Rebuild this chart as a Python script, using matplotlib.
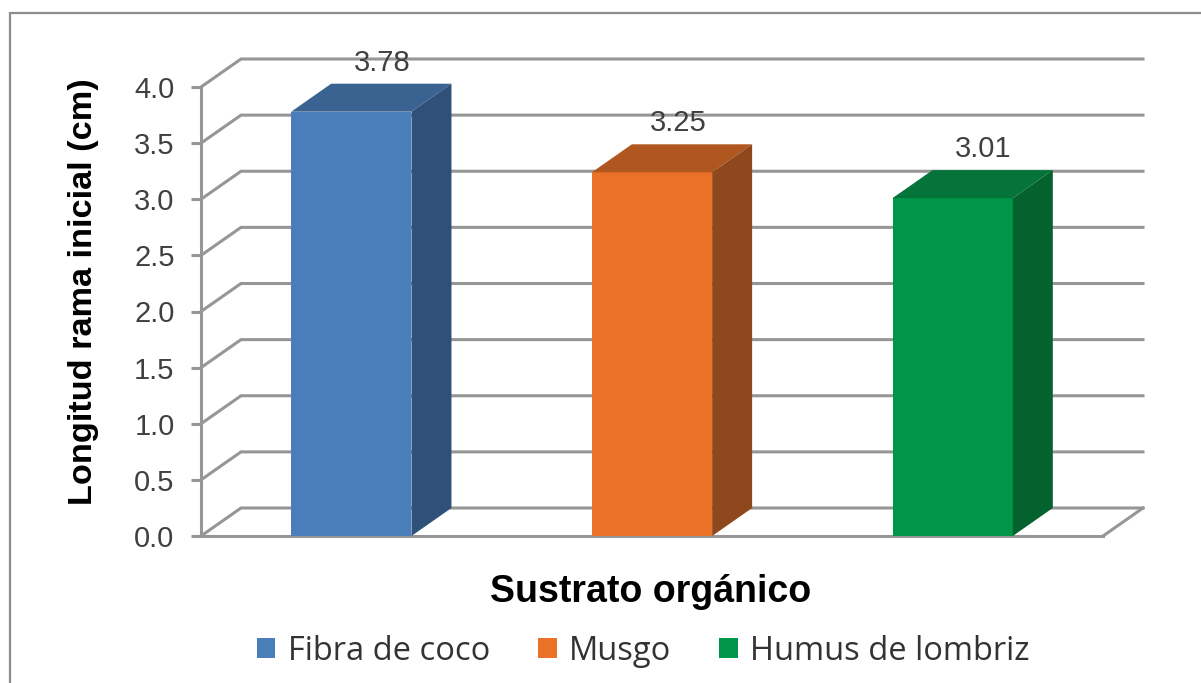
import matplotlib

matplotlib.use("Agg")
import matplotlib.pyplot as plt
from matplotlib.patches import Patch, Polygon, Rectangle

categories = ["Fibra de coco", "Musgo", "Humus de lombriz"]
values = [3.78, 3.24, 3.01]
value_labels = ["3.78", "3.25", "3.01"]
yticks = [0.0, 0.5, 1.0, 1.5, 2.0, 2.5, 3.0, 3.5, 4.0]

front_colors = ["#4A7EBB", "#E97128", "#009649"]
top_colors = ["#3A6391", "#B0561F", "#04743A"]
side_colors = ["#2F5078", "#8F471D", "#04622F"]

W, H = 1201, 683
GRID = "#969696"

plt.rcParams["font.family"] = "Liberation Sans"

fig = plt.figure(figsize=(W / 100, H / 100), dpi=100)
ax = fig.add_axes([201 / W, (H - 536) / H, 902 / W, 449 / H])
ax.set_xlim(0, 3)
ax.set_ylim(0, 4)

# depth of the fake 3d box, in data units
depth_x = 40 / (902 / 3)
depth_y = 28 / (449 / 4)
bar_width = 0.4

# outer frame, runs off the right and bottom of the picture
fig.add_artist(
    Rectangle(
        (10 / W, -0.02),
        1.0,
        (H - 13) / H + 0.02,
        transform=fig.transFigure,
        facecolor="none",
        edgecolor="#8C8C8C",
        linewidth=1.6,
    )
)

# back wall and floor
for y in yticks:
    ax.plot(
        [0, depth_x, 3 + depth_x],
        [y, y + depth_y, y + depth_y],
        color=GRID,
        linewidth=2.2,
        clip_on=False,
        zorder=1,
        solid_joinstyle="miter",
    )
ax.plot(
    [3, 3 + depth_x],
    [0, depth_y],
    color=GRID,
    linewidth=2.2,
    clip_on=False,
    zorder=1,
)

label_shift = [22, 19, 22]

for i, value in enumerate(values):
    left = i + 0.5 - bar_width / 2
    right = left + bar_width
    ax.bar(i + 0.5, value, width=bar_width, color=front_colors[i], zorder=3)
    ax.add_patch(
        Polygon(
            [
                (left, value),
                (right, value),
                (right + depth_x, value + depth_y),
                (left + depth_x, value + depth_y),
            ],
            facecolor=top_colors[i],
            clip_on=False,
            zorder=3,
        )
    )
    ax.add_patch(
        Polygon(
            [
                (right, 0),
                (right + depth_x, depth_y),
                (right + depth_x, value + depth_y),
                (right, value),
            ],
            facecolor=side_colors[i],
            clip_on=False,
            zorder=3,
        )
    )
    ax.annotate(
        value_labels[i],
        xy=(i + 0.5, value + depth_y),
        xytext=(label_shift[i], 15),
        textcoords="offset points",
        ha="center",
        va="center",
        fontsize=21,
        color="#404040",
        annotation_clip=False,
        zorder=4,
    )

for side in ["top", "right"]:
    ax.spines[side].set_visible(False)
for side in ["left", "bottom"]:
    ax.spines[side].set_color(GRID)
    ax.spines[side].set_linewidth(2.2)
    ax.spines[side].set_zorder(2)

ax.set_xticks([])
ax.set_yticks(yticks)
ax.set_yticklabels([f"{t:.1f}" for t in yticks])
ax.tick_params(
    axis="y", length=7, width=2.2, color=GRID, labelsize=21, labelcolor="#404040", pad=12
)
ax.patch.set_alpha(0)

fig.text(
    84 / W,
    (H - 292) / H,
    "Longitud rama inicial (cm)",
    rotation=90,
    ha="center",
    va="center",
    fontsize=24.7,
    fontweight="bold",
    color="black",
)
fig.text(
    651 / W,
    (H - 592) / H,
    "Sustrato orgánico",
    ha="center",
    va="center",
    fontsize=27,
    fontweight="bold",
    color="black",
)

handles = [Patch(facecolor=c, edgecolor="none", label=n) for c, n in zip(front_colors, categories)]
fig.legend(
    handles=handles,
    ncol=3,
    loc="center",
    bbox_to_anchor=(643 / W, (H - 651) / H),
    frameon=False,
    prop={"family": "Open Sans", "size": 23.5},
    labelcolor="#333333",
    handlelength=0.58,
    handleheight=0.58,
    handletextpad=0.37,
    columnspacing=1.47,
)

fig.savefig("out.png", dpi=100)
